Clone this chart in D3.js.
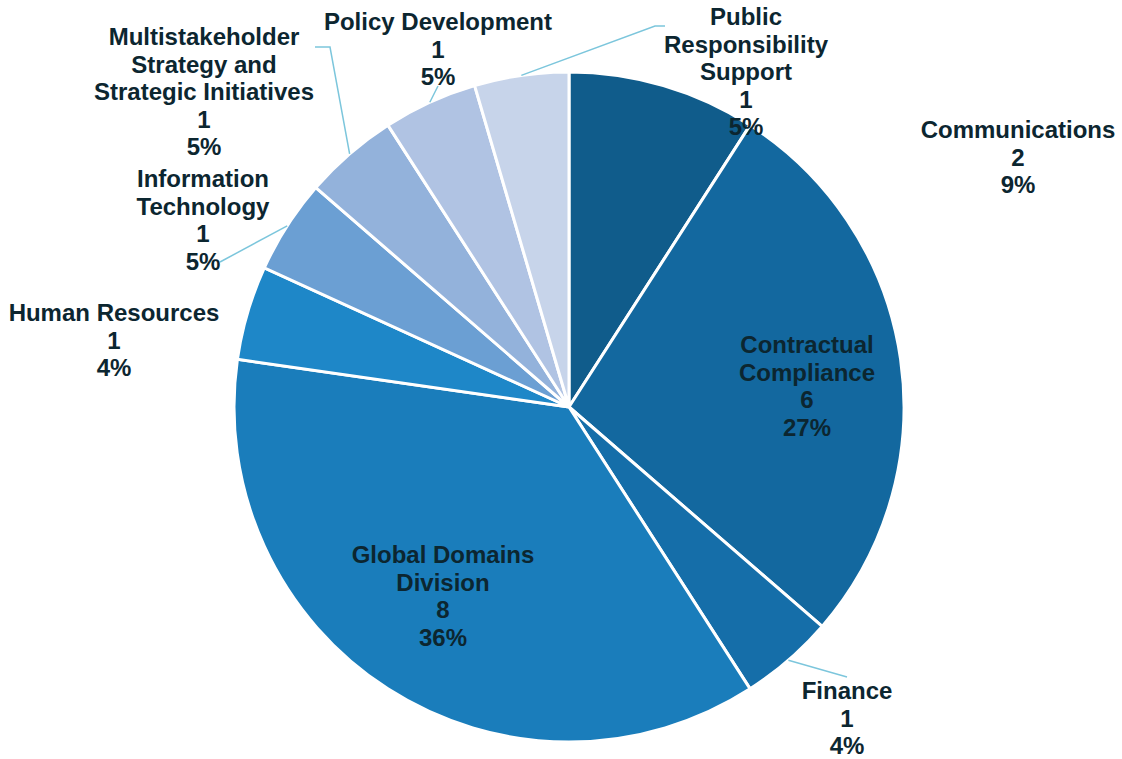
<!DOCTYPE html>
<html>

<head>
    <meta charset="utf-8">
    <title>Pie Chart by Department</title>
    <script type="text/javascript" src="https://d3js.org/d3.v7.min.js"></script>

    <style>
        body {
            margin: 0;
            background: #fff;
        }

        svg {
            display: block;
        }

        text {
            font-family: "Liberation Sans", Arial, sans-serif;
            font-weight: bold;
            font-size: 24px;
            fill: #0c2630;
        }
    </style>
</head>

<body>
</body>

<script type="text/javascript">
    var w = 1122;
    var h = 759;

    // data (clockwise from 12 o'clock)
    var categories = ["Communications", "Contractual Compliance", "Finance", "Global Domains Division",
        "Human Resources", "Information Technology", "Multistakeholder Strategy and Strategic Initiatives",
        "Policy Development", "Public Responsibility Support"];
    var counts = [2, 6, 1, 8, 1, 1, 1, 1, 1];
    var percentLabels = ["9%", "27%", "4%", "36%", "4%", "5%", "5%", "5%", "5%"];

    // how each category name wraps in the label
    var nameLines = [
        ["Communications"],
        ["Contractual", "Compliance"],
        ["Finance"],
        ["Global Domains", "Division"],
        ["Human Resources"],
        ["Information", "Technology"],
        ["Multistakeholder", "Strategy and", "Strategic Initiatives"],
        ["Policy Development"],
        ["Public", "Responsibility", "Support"]
    ];

    var colors = ["#105c8b", "#13689f", "#156ea9", "#1a7dbb", "#1e87c8",
        "#6b9fd3", "#93b2db", "#b0c3e3", "#c7d4ea"];

    // label layout: centre x and first baseline y of each label block
    var labelAnchor = [
        [1018, 138], [807, 353], [847, 699], [443, 563], [114, 321],
        [203, 187], [204, 45], [438, 30], [746, 25]
    ];
    // leader line bends (after the start point on the rim), null = no leader
    var leaderBends = [
        null, null, [[847, 677]], null, null,
        [[220, 262]], [[330, 47], [315, 47]], [[438, 86]], [[655, 26], [665, 26]]
    ];

    var cx = 569;
    var cy = 407;
    var radius = 335;
    var lineGap = 27.6;

    var svg = d3.select("body").append("svg").attr("width", w).attr("height", h);
    var g = svg.append("g").attr("transform", "translate(" + cx + "," + cy + ")");

    var pie = d3.pie().sort(null).value(function(d) { return d; });
    var arcs = pie(counts);

    var arc = d3.arc().innerRadius(0).outerRadius(radius);
    var rimArc = d3.arc().innerRadius(radius).outerRadius(radius);

    g.selectAll("path.slice")
        .data(arcs)
        .enter()
        .append("path")
        .attr("class", "slice")
        .attr("d", arc)
        .attr("fill", function(d, i) { return colors[i]; })
        .attr("stroke", "#fff")
        .attr("stroke-width", 3)
        .attr("stroke-linejoin", "miter");

    // leader lines
    var line = d3.line();
    arcs.forEach(function(d, i) {
        if (!leaderBends[i]) return;
        var start = rimArc.centroid(d);
        var pts = [[start[0] + cx, start[1] + cy]].concat(leaderBends[i]);
        svg.append("path")
            .attr("d", line(pts))
            .attr("fill", "none")
            .attr("stroke", "#7cc6dc")
            .attr("stroke-width", 1.5);
    });

    // labels
    categories.forEach(function(c, i) {
        var lines = nameLines[i].concat([String(counts[i]), percentLabels[i]]);
        var t = svg.append("text")
            .attr("text-anchor", "middle")
            .attr("x", labelAnchor[i][0])
            .attr("y", labelAnchor[i][1]);
        lines.forEach(function(s, k) {
            t.append("tspan")
                .attr("x", labelAnchor[i][0])
                .attr("y", labelAnchor[i][1] + k * lineGap)
                .text(s);
        });
    });
</script>
</html>
